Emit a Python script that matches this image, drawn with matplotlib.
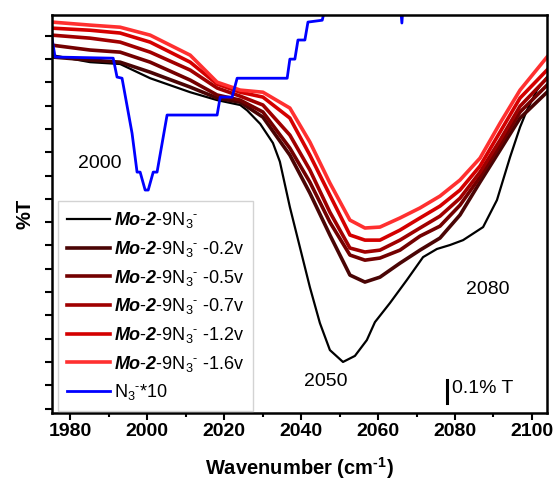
import matplotlib
matplotlib.use("Agg")
import matplotlib.pyplot as plt
from matplotlib.ticker import MultipleLocator

plt.rcParams["font.family"] = ["Liberation Sans", "DejaVu Sans"]
plt.rcParams["mathtext.fontset"] = "custom"
plt.rcParams["mathtext.rm"] = "Liberation Sans"
plt.rcParams["mathtext.it"] = "Liberation Sans:italic"
plt.rcParams["mathtext.bf"] = "Liberation Sans:italic:bold"
plt.rcParams["mathtext.sf"] = "Liberation Sans:bold"

# ---- data (wavenumber in cm-1, relative %T) ----
wn_red = [1975.3, 1985.2, 1993.0, 2000.8, 2011.2, 2018.2, 2024.2, 2030.1, 2037.1,
          2042.3, 2047.5, 2052.7, 2056.6, 2060.5, 2065.7, 2070.9, 2076.1, 2081.3,
          2086.5, 2091.7, 2096.9, 2103.9]
t_m02 = [1.509, 1.496, 1.487, 1.444, 1.380, 1.333, 1.315, 1.251, 1.088, 0.925, 0.745,
         0.573, 0.543, 0.564, 0.624, 0.680, 0.732, 0.831, 0.972, 1.109, 1.247, 1.358]
t_m05 = [1.560, 1.539, 1.530, 1.487, 1.410, 1.346, 1.324, 1.273, 1.118, 0.972, 0.800,
         0.659, 0.637, 0.646, 0.680, 0.740, 0.783, 0.873, 0.994, 1.131, 1.273, 1.388]
t_m07 = [1.603, 1.590, 1.573, 1.530, 1.453, 1.376, 1.341, 1.303, 1.174, 1.024, 0.843,
         0.689, 0.672, 0.680, 0.723, 0.775, 0.826, 0.903, 1.015, 1.152, 1.298, 1.418]
t_m12 = [1.633, 1.624, 1.612, 1.573, 1.487, 1.393, 1.358, 1.337, 1.247, 1.088, 0.916,
         0.745, 0.723, 0.723, 0.766, 0.818, 0.869, 0.938, 1.041, 1.187, 1.333, 1.453]
t_m16 = [1.659, 1.646, 1.637, 1.603, 1.517, 1.401, 1.367, 1.358, 1.290, 1.144, 0.968,
         0.809, 0.775, 0.779, 0.818, 0.861, 0.912, 0.981, 1.075, 1.225, 1.367, 1.509]

wn_blk = [1975.3, 1985.2, 1993.0, 2000.8, 2011.2, 2018.2, 2024.2, 2026.0, 2029.4,
          2032.7, 2034.5, 2037.1, 2039.7, 2042.3, 2044.9, 2047.5, 2050.9, 2054.0,
          2057.1, 2059.2, 2063.1, 2067.5, 2071.7, 2075.3, 2078.7, 2082.1, 2087.3,
          2090.9, 2094.3, 2096.9, 2098.7, 2101.3, 2103.9]
t_blk = [1.517, 1.487, 1.479, 1.418, 1.358, 1.324, 1.303, 1.280, 1.222, 1.140, 1.060,
         0.865, 0.693, 0.521, 0.367, 0.251, 0.200, 0.226, 0.294, 0.371, 0.453, 0.552,
         0.650, 0.685, 0.702, 0.723, 0.779, 0.895, 1.079, 1.208, 1.281, 1.367, 1.423]

wn_n3 = [1975.3, 1976.1, 1991.2, 1992.2, 1993.5, 1996.1, 1997.4, 1998.2, 1999.5,
         2000.3, 2001.6, 2002.6, 2005.2, 2018.2, 2019.0, 2022.1, 2023.4, 2036.4,
         2037.1, 2038.4, 2039.2, 2041.0, 2041.8, 2045.5, 2047.5, 2065.5, 2066.2,
         2066.8, 2080.0]
t_n3 = [1.590, 1.509, 1.504, 1.423, 1.418, 1.182, 1.015, 1.015, 0.938, 0.938, 1.015,
        1.015, 1.260, 1.260, 1.337, 1.337, 1.418, 1.418, 1.500, 1.500, 1.582, 1.582,
        1.659, 1.667, 1.800, 1.800, 1.655, 1.800, 1.850]

HY = "\u2010"  # short hyphen used in the superscripts
ion = "9N$_3{}^{" + HY + "}$"
labels = [r"$\mathbf{Mo}$-$\mathbf{2}$-" + ion,
          r"$\mathbf{Mo}$-$\mathbf{2}$-" + ion + " -0.2v",
          r"$\mathbf{Mo}$-$\mathbf{2}$-" + ion + " -0.5v",
          r"$\mathbf{Mo}$-$\mathbf{2}$-" + ion + " -0.7v",
          r"$\mathbf{Mo}$-$\mathbf{2}$-" + ion + " -1.2v",
          r"$\mathbf{Mo}$-$\mathbf{2}$-" + ion + " -1.6v",
          "N$_3{}^{" + HY + "}$*10"]
colors = ["black", "#4a0505", "#730000", "#a00000", "#d40000", "#ff3030", "#0000ff"]

fig = plt.figure(figsize=(5.56, 4.87), dpi=100)
ax = fig.add_axes([0.0935, 0.152, 0.8903, 0.817])

ax.plot(wn_blk, t_blk, color=colors[0], lw=1.6, label=labels[0])
for t, c, lab in zip([t_m02, t_m05, t_m07, t_m12, t_m16], colors[1:6], labels[1:6]):
    ax.plot(wn_red, t, color=c, lw=2.6, label=lab)
ax.plot(wn_n3, t_n3, color=colors[6], lw=2.0, label=labels[6])

# peak annotations and 0.1 %T scale bar
ax.text(1987.8, 1.054, "2000", fontsize=14, ha="center", va="center")
ax.text(2046.5, 0.114, "2050", fontsize=14, ha="center", va="center")
ax.text(2088.6, 0.513, "2080", fontsize=14, ha="center", va="center")
ax.plot([2077.9, 2077.9], [0.023, 0.123], color="black", lw=2.2)
ax.text(2079.1, 0.085, "0.1% T", fontsize=14, ha="left", va="center")

ax.set_xlim(1975.3, 2103.9)
ax.set_ylim(-0.019, 1.689)
ax.xaxis.set_major_locator(MultipleLocator(20))
ax.xaxis.set_minor_locator(MultipleLocator(10))
ax.yaxis.set_major_locator(MultipleLocator(0.1))
ax.set_yticklabels([])
ax.tick_params(axis="x", which="major", length=5, width=1.5, labelsize=14, pad=2)
ax.tick_params(axis="x", which="minor", length=3, width=1.5)
ax.tick_params(axis="y", which="major", length=5, width=1.5)
for lab in ax.get_xticklabels():
    lab.set_fontweight("bold")
for sp in ax.spines.values():
    sp.set_linewidth(1.8)

ax.set_xlabel("Wavenumber (cm$^{\\mathsf{" + HY + "1}}$)", fontsize=14.5,
              fontweight="bold", labelpad=11)
ax.set_ylabel("%T", fontsize=14.5, fontweight="bold", labelpad=4)

leg = ax.legend(loc="lower left", bbox_to_anchor=(0.012, 0.004), fontsize=13,
                frameon=True, fancybox=False, handlelength=2.4, handletextpad=0.2,
                labelspacing=0.48, borderpad=0.5, borderaxespad=0.0)
leg.get_frame().set_edgecolor("#c8c8c8")
leg.get_frame().set_linewidth(1.0)

fig.savefig("out.png", dpi=100)
